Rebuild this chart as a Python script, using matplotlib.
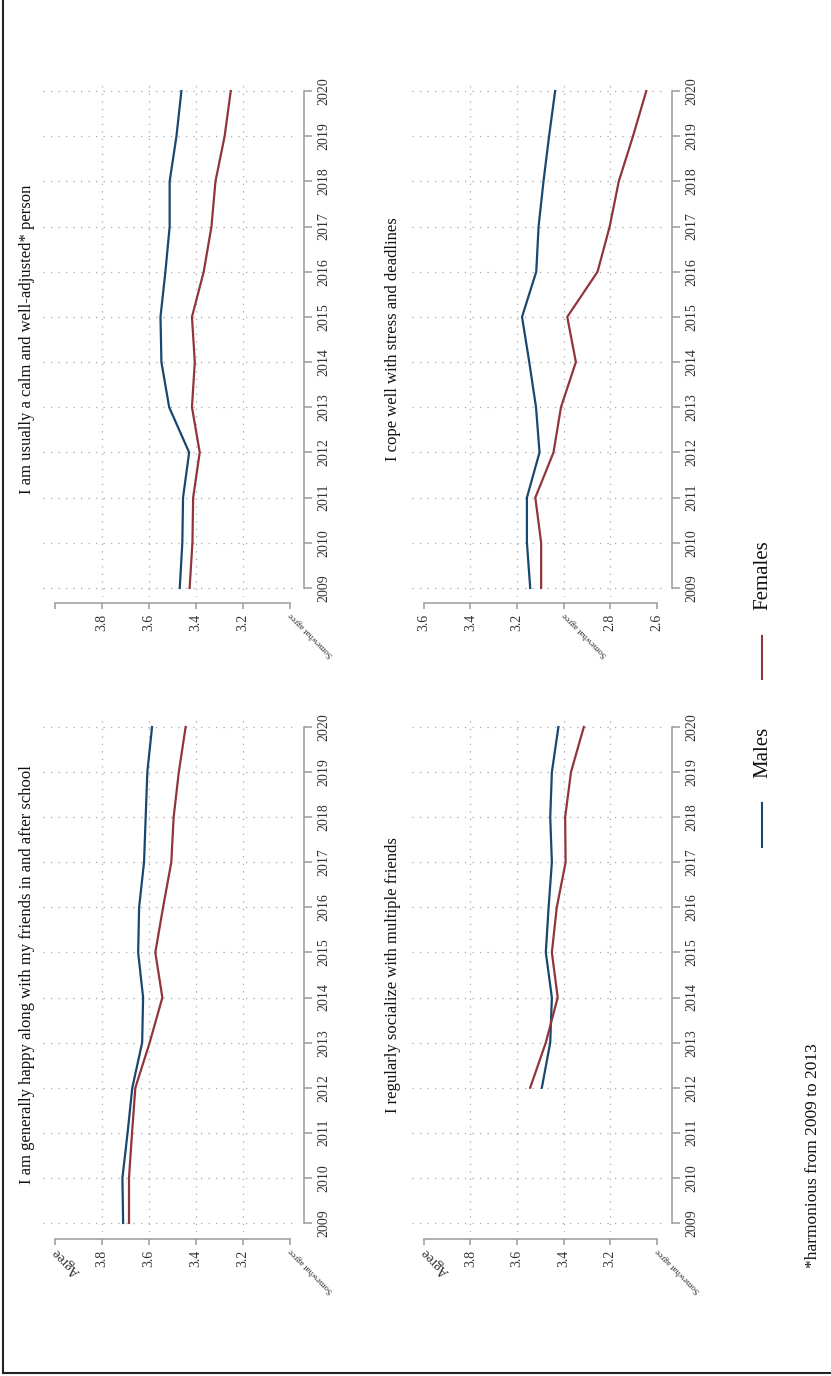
import matplotlib
matplotlib.use("Agg")
import matplotlib.pyplot as plt
from matplotlib.lines import Line2D

plt.rcParams['font.family'] = ['Liberation Serif', 'DejaVu Serif']

# survey years
years = list(range(2009, 2021))
years_social = list(range(2012, 2021))

# mean answers per survey item (4 = agree, 3 = somewhat agree)
happy_males = [3.709, 3.712, 3.690, 3.670, 3.628, 3.624, 3.645, 3.641, 3.620, 3.613, 3.606, 3.586]
happy_females = [3.684, 3.684, 3.671, 3.657, 3.596, 3.542, 3.572, 3.539, 3.504, 3.494, 3.472, 3.443]

social_males = [3.493, 3.457, 3.450, 3.476, 3.464, 3.450, 3.457, 3.450, 3.422]
social_females = [3.543, 3.476, 3.425, 3.450, 3.429, 3.391, 3.393, 3.368, 3.313]

calm_males = [3.468, 3.457, 3.454, 3.428, 3.513, 3.546, 3.550, 3.529, 3.511, 3.511, 3.482, 3.461]
calm_females = [3.426, 3.414, 3.411, 3.383, 3.416, 3.404, 3.416, 3.366, 3.333, 3.316, 3.277, 3.251]

cope_males = [3.143, 3.157, 3.157, 3.103, 3.118, 3.147, 3.178, 3.117, 3.107, 3.086, 3.062, 3.036]
cope_females = [3.096, 3.096, 3.121, 3.043, 3.011, 2.947, 2.984, 2.854, 2.802, 2.763, 2.702, 2.645]

# value axis ticks
ticks_upper = [4.0, 3.8, 3.6, 3.4, 3.2, 3.0]
labels_upper = ['Agree', '3.8', '3.6', '3.4', '3.2', 'Somewhat agree']
labels_calm = ['', '3.8', '3.6', '3.4', '3.2', 'Somewhat agree']
ticks_cope = [3.6, 3.4, 3.2, 3.0, 2.8, 2.6]
labels_cope = ['3.6', '3.4', '3.2', 'Somewhat agree', '2.8', '2.6']

NAVY = '#1a476f'
MAROON = '#90353b'
AXIS_GREY = '#9a9a9a'
GRID_GREY = '#a8a8a8'
TEXT_GREY = '#333333'

W, H = 831, 1376
fig = plt.figure(figsize=(W / 100, H / 100), dpi=100)


def add_panel(box, title, yrs, males, females, ticks, labels, title_x, right_off, bottom_off):
    left, right, top, bottom = box
    ax = fig.add_axes([left / W, 1 - bottom / H, (right - left) / W, (bottom - top) / H])

    # year grid lines and inner value grid lines, dotted
    for yr in years:
        ax.axhline(yr, color=GRID_GREY, lw=0.9, ls=(0, (1, 5)), zorder=0)
    for t in ticks[1:-1]:
        ax.axvline(t, color=GRID_GREY, lw=0.9, ls=(0, (1, 5)), zorder=0)

    ax.plot(males, yrs, color=NAVY, lw=1.6)
    ax.plot(females, yrs, color=MAROON, lw=1.6)

    span = 1.0 + 0.081
    ax.set_xlim(ticks[0] + 0.05, ticks[0] + 0.05 - span)
    ax.set_ylim(2008.8, 2020.2)

    for s in ('top', 'left'):
        ax.spines[s].set_visible(False)
    ax.spines['right'].set_position(('outward', right_off))
    ax.spines['bottom'].set_position(('outward', bottom_off))
    ax.spines['right'].set_bounds(2009, 2020)
    ax.spines['bottom'].set_bounds(ticks[-1], ticks[0])
    for s in ('right', 'bottom'):
        ax.spines[s].set_color(AXIS_GREY)
        ax.spines[s].set_linewidth(1.1)

    ax.yaxis.tick_right()
    ax.set_yticks(years)
    ax.set_yticklabels([str(y) for y in years])
    ax.set_xticks(ticks)
    ax.set_xticklabels(labels)
    ax.tick_params(axis='both', direction='out', width=1.1, color=AXIS_GREY,
                   labelsize=10, labelcolor=TEXT_GREY, labelrotation=90)
    ax.tick_params(axis='y', length=5.8, pad=4)
    ax.tick_params(axis='x', length=4.3, pad=3.5)

    for lbl in ax.get_yticklabels():
        lbl.set_va('center')
    for lbl in ax.get_xticklabels():
        txt = lbl.get_text()
        if txt in ('Agree', 'Somewhat agree'):
            lbl.set_rotation(135)
            lbl.set_rotation_mode('anchor')
            lbl.set_ha('right')
            lbl.set_va('center')
            if txt == 'Somewhat agree':
                lbl.set_fontsize(6.5)

    ax.text(title_x, 0.5, title, transform=ax.transAxes, rotation=90,
            ha='center', va='center', fontsize=12, color='#111111')
    return ax


add_panel((43, 297, 718, 1232), 'I am generally happy along with my friends in and after school',
          years, happy_males, happy_females, ticks_upper, labels_upper, -0.063, 5.0, 5.0)
add_panel((412, 664, 718, 1232), 'I regularly socialize with multiple friends',
          years_social, social_males, social_females, ticks_upper, labels_upper, -0.075, 5.8, 5.0)
add_panel((43, 297, 82, 597), 'I am usually a calm and well-adjusted* person',
          years, calm_males, calm_females, ticks_upper, labels_calm, -0.063, 5.0, 4.3)
add_panel((412, 664, 82, 597), 'I cope well with stress and deadlines',
          years, cope_males, cope_females, ticks_cope, labels_cope, -0.075, 5.8, 4.3)

# legend, drawn upright along the page
fig.add_artist(Line2D([762 / W, 762 / W], [1 - 847 / H, 1 - 803 / H], color=NAVY, lw=1.5))
fig.text(763 / W, 1 - 778 / H, 'Males', rotation=90, ha='center', va='bottom', fontsize=15, color='#111111')
fig.add_artist(Line2D([762 / W, 762 / W], [1 - 679 / H, 1 - 636 / H], color=MAROON, lw=1.5))
fig.text(763 / W, 1 - 610 / H, 'Females', rotation=90, ha='center', va='bottom', fontsize=15, color='#111111')

fig.text(813 / W, 1 - 1268 / H, '*harmonious from 2009 to 2013', rotation=90,
         ha='center', va='bottom', fontsize=12.5, color='#111111')

# outer frame (left and bottom edges)
fig.add_artist(Line2D([2.5 / W, 2.5 / W], [1 - 1373 / H, 1.0], color='#222222', lw=1.5))
fig.add_artist(Line2D([2.5 / W, 1.0], [1 - 1373 / H, 1 - 1373 / H], color='#222222', lw=1.5))

fig.savefig('out.png', dpi=100)
